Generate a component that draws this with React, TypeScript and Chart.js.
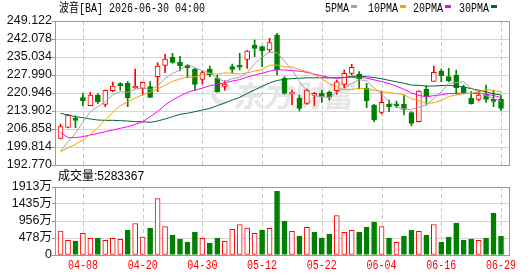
import React, { useEffect, useRef } from 'react';
import { Chart, registerables } from 'chart.js';

Chart.register(...registerables);

// ---------------- data ----------------
const dates = [
  '04-02', '04-06', '04-07', '04-08', '04-09', '04-10', '04-13', '04-14', '04-15', '04-16',
  '04-17', '04-20', '04-21', '04-22', '04-23', '04-24', '04-27', '04-28', '04-29', '04-30',
  '05-01', '05-04', '05-05', '05-06', '05-07', '05-08', '05-11', '05-12', '05-13', '05-14',
  '05-15', '05-18', '05-19', '05-20', '05-21', '05-22', '05-26', '05-27', '05-28', '05-29',
  '06-01', '06-02', '06-03', '06-04', '06-05', '06-08', '06-09', '06-10', '06-11', '06-12',
  '06-15', '06-16', '06-17', '06-18', '06-22', '06-23', '06-24', '06-25', '06-26', '06-29',
];

const openP = [
  203.2, 207.5, 210.9, 219.12, 215.99, 220.16, 216.51, 221.86, 224.2, 224.73,
  222.9, 222.77, 223.42, 227.34, 231.77, 234.9, 233.08, 231.25, 230.34, 226.29,
  230.34, 226.68, 223.55, 231.25, 231.4, 234.12, 239.73, 239.08, 237.77, 243.64,
  226.68, 220.5, 218.86, 216.9, 220.0, 220.81, 221.3, 221.9, 224.33, 228.64,
  228.38, 222.8, 216.25, 213.38, 216.51, 216.1, 216.51, 213.25, 209.73, 222.51,
  225.51, 229.55, 227.34, 227.99, 223.16, 218.86, 218.47, 220.55, 217.94, 218.6,
];
const highP = [
  208.8, 212.6, 211.94, 220.68, 221.2, 220.68, 222.1, 225.25, 224.99, 225.38,
  230.34, 225.25, 225.38, 232.81, 236.08, 236.47, 235.29, 231.9, 230.6, 229.55,
  231.51, 227.99, 225.77, 232.29, 236.47, 237.6, 241.68, 239.3, 242.34, 244.29,
  227.34, 222.12, 220.16, 222.5, 221.2, 222.12, 221.73, 226.03, 229.94, 232.16,
  229.3, 224.73, 216.51, 221.73, 218.2, 217.81, 219.9, 213.64, 221.9, 223.81,
  231.51, 230.34, 230.6, 229.94, 224.07, 221.47, 221.73, 224.07, 222.12, 219.9,
];
const lowP = [
  202.95, 207.3, 207.38, 215.99, 215.9, 216.9, 215.6, 221.47, 221.99, 215.6,
  222.77, 220.16, 219.2, 221.47, 228.9, 232.55, 229.55, 226.94, 221.99, 224.47,
  227.34, 221.2, 221.99, 228.64, 229.94, 230.6, 235.16, 231.25, 236.86, 227.99,
  220.55, 216.25, 213.9, 216.5, 215.99, 217.29, 218.2, 220.42, 223.03, 227.99,
  222.5, 215.2, 209.73, 212.73, 213.64, 215.2, 212.34, 208.16, 209.6, 216.51,
  225.4, 225.38, 225.38, 220.42, 220.55, 216.6, 217.81, 217.29, 215.6, 214.03,
];
const closeP = [
  207.77, 212.33, 210.25, 217.81, 220.16, 217.55, 221.99, 223.68, 223.81, 219.12,
  223.29, 225.12, 219.25, 231.51, 234.25, 232.94, 231.64, 230.86, 224.33, 228.9,
  227.99, 221.47, 224.47, 230.21, 231.1, 237.38, 238.42, 237.38, 240.64, 229.94,
  220.81, 221.0, 214.94, 222.12, 220.3, 219.4, 219.2, 225.3, 228.64, 230.99,
  226.42, 217.9, 210.38, 217.29, 215.6, 215.95, 214.55, 209.07, 221.73, 219.51,
  229.03, 227.73, 225.77, 223.03, 221.07, 216.77, 220.16, 218.47, 217.68, 214.94,
];

// volume in 万 (10k shares)
const volumes = [
  672, 411, 392, 607, 467, 476, 411, 467, 439, 700,
  887, 504, 756, 1586, 803, 560, 448, 364, 644, 467,
  336, 476, 383, 719, 859, 756, 607, 700, 747, 1792,
  952, 663, 532, 775, 644, 476, 588, 1111, 635, 691,
  644, 784, 924, 803, 476, 355, 532, 700, 663, 560,
  859, 364, 504, 896, 420, 448, 411, 476, 1176, 528.34,
];

const ma5 = [
  198.2, 201.9, 205.16, 209.47, 213.66, 215.62, 217.55, 220.24, 221.44, 221.23,
  222.38, 223.0, 222.12, 223.66, 226.68, 228.61, 229.92, 232.24, 230.8, 229.73,
  228.74, 226.71, 225.43, 226.61, 227.05, 228.93, 232.32, 234.9, 236.98, 236.75,
  233.44, 229.95, 225.47, 221.76, 219.83, 219.56, 219.2, 221.26, 222.57, 224.71,
  226.11, 225.85, 222.87, 220.6, 217.52, 215.42, 214.75, 214.49, 215.38, 216.16,
  218.78, 221.41, 224.75, 225.01, 225.33, 222.87, 221.36, 219.9, 218.83, 217.6,
];
const ma10 = [
  197.99, 199.55, 200.86, 202.55, 204.77, 207.38, 210.38, 213.38, 215.99, 217.45,
  219.0, 220.28, 221.18, 222.55, 223.96, 225.5, 226.46, 227.18, 227.23, 228.21,
  228.68, 228.31, 228.84, 228.71, 228.39, 228.84, 229.51, 230.17, 231.8, 231.9,
  231.18, 231.14, 230.18, 229.37, 228.29, 226.5, 224.58, 223.37, 222.17, 222.28,
  222.84, 222.53, 222.07, 221.59, 221.12, 220.77, 220.31, 218.71, 218.02, 216.87,
  217.13, 218.11, 219.62, 220.2, 220.74, 220.83, 221.39, 222.33, 221.92, 221.47,
];
const ma20 = [
  205.55, 203.5, 203.5, 203.86, 204.5, 205.16, 205.8, 206.46, 207.12, 207.77,
  208.68, 209.73, 211.68, 213.64, 216.25, 218.2, 219.77, 221.2, 222.12, 222.83,
  223.84, 224.3, 225.01, 225.63, 226.17, 227.17, 227.99, 228.67, 229.51, 230.05,
  229.93, 229.72, 229.51, 229.04, 228.34, 227.66, 227.03, 226.74, 226.95, 227.06,
  226.99, 226.8, 226.09, 225.45, 224.67, 223.6, 222.41, 220.99, 220.01, 219.49,
  219.9, 220.23, 220.76, 220.81, 220.85, 220.74, 220.8, 220.51, 219.96, 219.17,
];
const ma30 = [
  213.0, 212.34, 211.68, 211.29, 210.77, 210.38, 210.25, 210.25, 210.12, 209.99,
  209.73, 209.73, 209.47, 209.99, 210.77, 211.68, 212.6, 213.0, 213.64, 214.29,
  214.94, 215.99, 217.03, 218.2, 219.25, 220.81, 222.12, 223.55, 224.86, 225.85,
  226.29, 226.58, 226.73, 226.88, 226.88, 226.94, 226.84, 226.88, 227.04, 227.44,
  227.55, 227.31, 227.01, 226.53, 225.9, 225.33, 224.76, 224.04, 223.95, 223.64,
  223.67, 223.87, 223.92, 223.68, 223.34, 222.65, 222.05, 221.42, 220.65, 220.15,
];

const priceTicks = [192.77, 199.814, 206.858, 213.902, 220.946, 227.99, 235.034, 242.078, 249.122];
const volTicks = [0, 478, 956, 1435, 1913];
const volTickLabels = ['0', '478万', '956万', '1435万', '1913万'];
const xLabelDates = ['04-08', '04-20', '04-30', '05-12', '05-22', '06-04', '06-16', '06-29'];
const maNames = ['5PMA', '10PMA', '20PMA', '30PMA'];
const titleText = '波音[BA] 2026-06-30 04:00';
const volumeTitle = '成交量:5283367';
const watermarkText = '东方财富';

// ---------------- styles ----------------
const RED = '#ff0000';
const GREEN = '#008000';
const MA_COLORS = ['#a3a3a3', '#f4a300', '#ff00ff', '#006633'];
const FRAME = '#999999';
const GRID = '#d4d4d4';
const DASH = '#c8c8c8';
const X_MIN = -0.74;
const X_MAX = 60.07;
const LEGEND_X = [325, 368, 413, 459];
const MONO_SCALE = 6 / 7.2;

function drawMono(ctx: CanvasRenderingContext2D, text: string, x: number, y: number, color: string, align: 'left' | 'center' = 'left') {
  ctx.save();
  ctx.font = "12px 'Liberation Mono', 'Noto Sans CJK SC'";
  ctx.fillStyle = color;
  ctx.textBaseline = 'middle';
  ctx.textAlign = 'left';
  const w = ctx.measureText(text).width * MONO_SCALE;
  const startX = align === 'center' ? x - w / 2 : x;
  ctx.translate(startX, y);
  ctx.scale(MONO_SCALE, 1);
  ctx.fillText(text, 0, 0);
  ctx.restore();
  return w;
}

function drawDashedVerticals(chart: any, tickIdx: number[]) {
  const { ctx, chartArea, scales } = chart;
  ctx.save();
  ctx.strokeStyle = DASH;
  ctx.lineWidth = 1;
  ctx.setLineDash([4, 3]);
  for (const i of tickIdx) {
    const px = Math.round(scales.x.getPixelForValue(i)) + 0.5;
    ctx.beginPath();
    ctx.moveTo(px, chartArea.top);
    ctx.lineTo(px, chartArea.bottom);
    ctx.stroke();
  }
  ctx.restore();
}

function drawFrame(chart: any) {
  const { ctx, chartArea } = chart;
  ctx.save();
  ctx.strokeStyle = FRAME;
  ctx.lineWidth = 1;
  ctx.strokeRect(chartArea.left + 0.5, chartArea.top + 0.5, chartArea.right - chartArea.left, chartArea.bottom - chartArea.top);
  ctx.restore();
}

export default function App() {
  const priceRef = useRef<HTMLCanvasElement>(null);
  const volRef = useRef<HTMLCanvasElement>(null);

  useEffect(() => {
    const idx = dates.map((_, i) => i);
    const upCandle = idx.map((i) =>
      closeP[i] > openP[i] || (closeP[i] === openP[i] && (i === 0 || closeP[i] >= closeP[i - 1]))
    );
    const upVol = idx.map((i) => (i === 0 ? closeP[0] >= openP[0] : closeP[i] >= closeP[i - 1]));
    const tickIdx = xLabelDates.map((d) => dates.indexOf(d));
    const mas = [ma5, ma10, ma20, ma30];

    const pricePlugin = {
      id: 'pricePanel',
      beforeDatasetsDraw(chart: any) {
        const { ctx } = chart;
        // watermark
        ctx.save();
        ctx.fillStyle = '#e6e6e6';
        ctx.strokeStyle = '#e6e6e6';
        ctx.lineWidth = 5;
        ctx.beginPath();
        ctx.arc(222, 94, 8.5, Math.PI * 0.35, Math.PI * 1.85);
        ctx.stroke();
        ctx.font = "bold 30px 'Noto Sans CJK SC'";
        ctx.textBaseline = 'middle';
        ctx.setTransform(1, 0, -0.18, 1, 0, 0);
        ctx.fillText(watermarkText, 235 + 0.18 * 95.5, 95.5);
        ctx.restore();
        drawDashedVerticals(chart, tickIdx);
      },
      afterDraw(chart: any) {
        const { ctx } = chart;
        drawFrame(chart);
        drawMono(ctx, titleText, 59, 8.5, '#000');
        maNames.forEach((name, k) => {
          const w = drawMono(ctx, name, LEGEND_X[k], 8.5, '#000');
          ctx.save();
          ctx.fillStyle = MA_COLORS[k];
          ctx.fillRect(Math.round(LEGEND_X[k] + w + 2), 5, 6, 3);
          ctx.restore();
        });
      },
    };

    const volPlugin = {
      id: 'volPanel',
      beforeDatasetsDraw(chart: any) {
        drawDashedVerticals(chart, tickIdx);
      },
      afterDraw(chart: any) {
        const { ctx, scales } = chart;
        drawFrame(chart);
        ctx.save();
        ctx.font = "12px 'Liberation Sans', 'Noto Sans CJK SC'";
        ctx.fillStyle = '#000';
        ctx.textBaseline = 'middle';
        ctx.textAlign = 'left';
        ctx.fillText(volumeTitle, 58, 176.5);
        ctx.restore();
        tickIdx.forEach((i, k) => {
          drawMono(ctx, xLabelDates[k], scales.x.getPixelForValue(i), 266, RED, 'center');
        });
      },
    };

    const yTickFont = { family: "'Liberation Sans', 'Noto Sans CJK SC'", size: 12.5 };

    const priceChart = new Chart(priceRef.current as HTMLCanvasElement, {
      type: 'bar',
      data: {
        datasets: [
          {
            type: 'bar',
            data: idx.map((i) => ({ x: i, y: [lowP[i], highP[i]] })),
            backgroundColor: idx.map((i) => (upCandle[i] ? RED : GREEN)),
            borderWidth: 0,
            barThickness: 1,
            grouped: false,
            order: 3,
          } as any,
          {
            type: 'bar',
            data: idx.map((i) => ({ x: i, y: [openP[i], closeP[i]] })),
            backgroundColor: idx.map((i) => (upCandle[i] ? '#ffffff' : GREEN)),
            borderColor: idx.map((i) => (upCandle[i] ? RED : GREEN)),
            borderWidth: 1,
            borderSkipped: false,
            barThickness: 5,
            minBarLength: 2,
            grouped: false,
            order: 2,
          } as any,
          ...mas.map((m, k) => ({
            type: 'line',
            data: idx.map((i) => ({ x: i, y: m[i] })),
            borderColor: MA_COLORS[k],
            borderWidth: 1,
            pointRadius: 0,
            pointHoverRadius: 0,
            tension: 0,
            fill: false,
            order: 1,
          })) as any[],
        ],
      },
      options: {
        responsive: false,
        animation: false,
        devicePixelRatio: 1,
        events: [],
        layout: { padding: { top: 21, right: 21, bottom: 111, left: 0 } },
        plugins: { legend: { display: false }, tooltip: { enabled: false } },
        scales: {
          x: { type: 'linear', min: X_MIN, max: X_MAX, offset: false, display: false },
          y: {
            type: 'linear',
            min: priceTicks[0],
            max: priceTicks[priceTicks.length - 1],
            beginAtZero: false,
            afterBuildTicks: (s: any) => {
              s.ticks = priceTicks.map((v) => ({ value: v }));
            },
            afterFit: (s: any) => {
              s.width = 55;
            },
            ticks: {
              autoSkip: false,
              padding: 0,
              color: '#111',
              font: yTickFont,
              callback: (v: any) => Number(v).toFixed(3),
            },
            grid: { color: GRID, tickColor: FRAME, tickLength: 3, lineWidth: 1 },
            border: { display: false },
          },
        },
      } as any,
      plugins: [pricePlugin],
    });

    const volChart = new Chart(volRef.current as HTMLCanvasElement, {
      type: 'bar',
      data: {
        datasets: [
          {
            type: 'bar',
            data: idx.map((i) => ({ x: i, y: volumes[i] })),
            backgroundColor: idx.map((i) => (upVol[i] ? '#ffffff' : GREEN)),
            borderColor: idx.map((i) => (upVol[i] ? RED : GREEN)),
            borderWidth: 1,
            borderSkipped: false,
            barThickness: 5,
          } as any,
        ],
      },
      options: {
        responsive: false,
        animation: false,
        devicePixelRatio: 1,
        events: [],
        layout: { padding: { top: 187, right: 21, bottom: 21, left: 0 } },
        plugins: { legend: { display: false }, tooltip: { enabled: false } },
        scales: {
          x: { type: 'linear', min: X_MIN, max: X_MAX, offset: false, display: false },
          y: {
            type: 'linear',
            min: 0,
            max: volTicks[volTicks.length - 1],
            afterBuildTicks: (s: any) => {
              s.ticks = volTicks.map((v) => ({ value: v }));
            },
            afterFit: (s: any) => {
              s.width = 55;
            },
            ticks: {
              autoSkip: false,
              padding: 0,
              color: '#111',
              font: yTickFont,
              callback: (_v: any, i: number) => volTickLabels[i],
            },
            grid: { color: GRID, tickColor: FRAME, tickLength: 3, lineWidth: 1 },
            border: { display: false },
          },
        },
      } as any,
      plugins: [volPlugin],
    });

    return () => {
      priceChart.destroy();
      volChart.destroy();
    };
  }, []);

  return (
    <div style={{ position: 'fixed', left: 0, top: 0, width: 530, height: 276, background: '#ffffff' }}>
      <canvas ref={priceRef} width={530} height={276} style={{ position: 'absolute', left: 0, top: 0, width: 530, height: 276 }} />
      <canvas ref={volRef} width={530} height={276} style={{ position: 'absolute', left: 0, top: 0, width: 530, height: 276 }} />
    </div>
  );
}
